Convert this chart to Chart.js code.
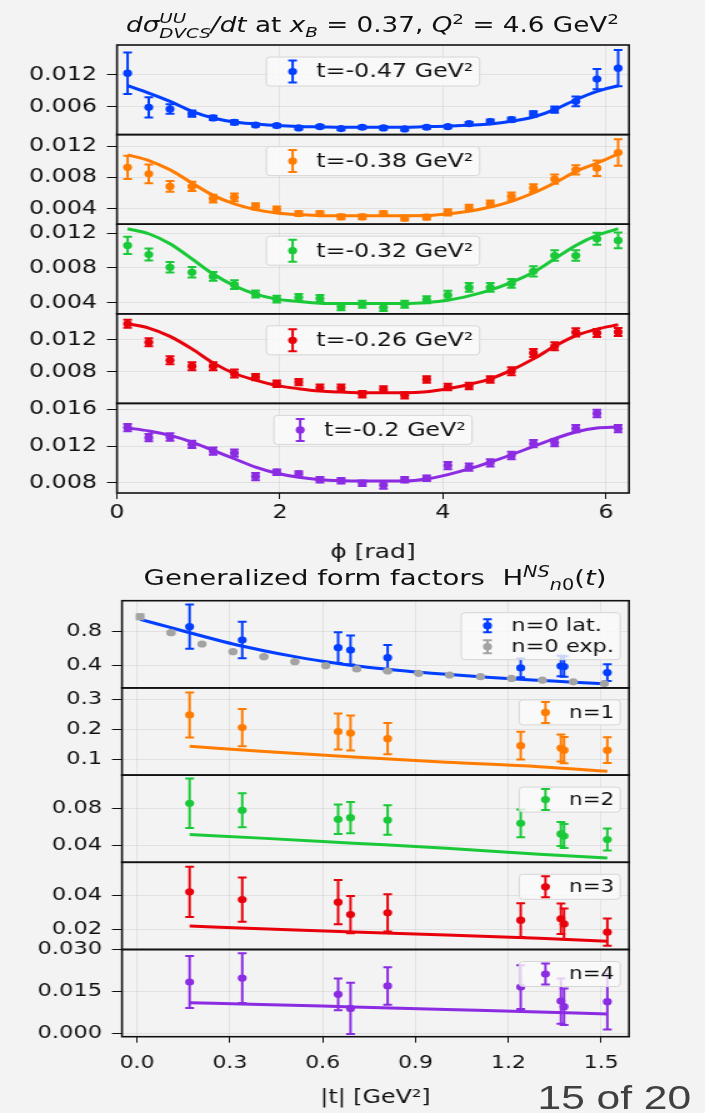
<!DOCTYPE html>
<html>
<head>
<meta charset="utf-8">
<title>DVCS cross sections and generalized form factors</title>
<script src="https://cdn.jsdelivr.net/npm/chart.js@4.4.1/dist/chart.umd.min.js"></script>
<style>
  html, body { margin: 0; padding: 0; background: #f3f3f3; }
  body { width: 705px; height: 1113px; overflow: hidden; position: relative; }
  /* the slide shows the figure stretched sideways: draw at 564px, stretch to 705px */
  #stage { position: absolute; left: 0; top: 0; width: 564px; height: 1113px;
           transform: scaleX(1.25); transform-origin: 0 0; }
  #stage canvas { position: absolute; left: 0; }
  .ttl { position: absolute; width: 500px; text-align: center; line-height: 24px;
         white-space: nowrap; color: #111; font-family: "DejaVu Sans", sans-serif; }
  .ttl sup, .ttl sub { font-size: 70%; line-height: 0; }
  .ss { display: inline-block; font-size: 70%; line-height: 1.05; vertical-align: -0.45em; text-align: left; }
  #page { position: absolute; left: 430px; top: 1078px; line-height: 34px;
          font: 34px "Liberation Sans", sans-serif; color: #404040; white-space: nowrap; }
</style>
</head>
<body>
<div id="stage">
  <div class="ttl" style="left:48px; top:10px; font-size:21px;"><i>dσ</i><span class="ss"><i>UU</i><br><i>DVCS</i></span><i>/dt</i> at <i>x</i><sub><i>B</i></sub> = 0.37, <i>Q</i><sup>2</sup> = 4.6 GeV<sup>2</sup></div>
  <div class="ttl" style="left:50px; top:566px; font-size:22px;">Generalized form factors&nbsp; H<sup><i>NS</i></sup><sub><i>n</i>0</sub>(<i>t</i>)</div>
  <div id="page">15 of 20</div>
</div>
<script>
// ---------- top figure: dsigma/dt vs phi ----------
const phi = [0.13, 0.39, 0.65, 0.92, 1.18, 1.44, 1.70, 1.96, 2.23, 2.49, 2.75, 3.01,
             3.27, 3.53, 3.80, 4.06, 4.32, 4.58, 4.84, 5.11, 5.37, 5.63, 5.89, 6.15];
const phiTicks = [0, 2, 4, 6];
const tLabels = ['t=-0.47 GeV²', 't=-0.38 GeV²', 't=-0.32 GeV²', 't=-0.26 GeV²', 't=-0.2 GeV²'];

const sig047 = [0.0123, 0.00588, 0.00556, 0.00469, 0.00388, 0.00306, 0.00256, 0.00244, 0.0020, 0.00225, 0.00188, 0.00213,
                0.0020, 0.00181, 0.00213, 0.00225, 0.00281, 0.00319, 0.00356, 0.00463, 0.00544, 0.0070, 0.0112, 0.01325];
const err047 = [0.0039, 0.0019, 0.0009, 0.0006, 0.0004, 0.0004, 0.0003, 0.0003, 0.0003, 0.0003, 0.0003, 0.0003,
                0.0003, 0.0003, 0.0003, 0.0003, 0.0003, 0.0004, 0.0004, 0.0005, 0.0006, 0.0009, 0.0019, 0.0034];
const fit047 = [0.00994, 0.00856, 0.0070, 0.00513, 0.00388, 0.00313, 0.00275, 0.00244, 0.00225, 0.00219, 0.00213, 0.00213,
                0.00213, 0.00213, 0.00225, 0.00231, 0.0025, 0.00275, 0.00325, 0.00406, 0.00544, 0.00731, 0.00888, 0.00994];

const sig038 = [0.0093, 0.00847, 0.00685, 0.00685, 0.00528, 0.00545, 0.0043, 0.00387, 0.00336, 0.00336, 0.00294, 0.00294,
                0.00336, 0.00277, 0.0029, 0.00353, 0.00409, 0.00464, 0.00557, 0.00664, 0.00779, 0.00898, 0.00919, 0.01119];
const err038 = [0.0015, 0.0012, 0.0007, 0.0006, 0.0005, 0.0005, 0.0004, 0.0004, 0.0003, 0.0003, 0.0003, 0.0003,
                0.0003, 0.0003, 0.0003, 0.0004, 0.0004, 0.0004, 0.0005, 0.0005, 0.0006, 0.0006, 0.001, 0.0017];
const fit038 = [0.0109, 0.01017, 0.00898, 0.00728, 0.0057, 0.0046, 0.00387, 0.00345, 0.00323, 0.0031, 0.0031, 0.0031,
                0.0031, 0.0031, 0.00312, 0.00332, 0.00366, 0.00421, 0.00494, 0.006, 0.00728, 0.00877, 0.00983, 0.01102];

const sig032 = [0.0106, 0.00955, 0.00808, 0.0075, 0.00703, 0.00607, 0.00499, 0.00441, 0.0046, 0.00448, 0.00352, 0.00383,
                0.00344, 0.00383, 0.00433, 0.00487, 0.00576, 0.00576, 0.00622, 0.00761, 0.00943, 0.00943, 0.01136, 0.01117];
const err032 = [0.001, 0.0007, 0.0006, 0.0006, 0.0005, 0.0005, 0.0004, 0.0004, 0.0004, 0.0004, 0.0004, 0.0004,
                0.0004, 0.0004, 0.0004, 0.0005, 0.0005, 0.0005, 0.0005, 0.0006, 0.0006, 0.0006, 0.0007, 0.0009];
const fit032 = [0.01252, 0.01194, 0.01078, 0.00904, 0.0073, 0.00595, 0.00499, 0.00441, 0.00414, 0.00394, 0.0039, 0.0039,
                0.0039, 0.0039, 0.00402, 0.00429, 0.00479, 0.00545, 0.00634, 0.0075, 0.00904, 0.01059, 0.01175, 0.01252];

const sig026 = [0.01398, 0.01167, 0.00944, 0.0087, 0.0087, 0.00779, 0.00734, 0.00652, 0.00672, 0.00602, 0.00602, 0.0052,
                0.00581, 0.00507, 0.00705, 0.0061, 0.00623, 0.00705, 0.00808, 0.01035, 0.01118, 0.01291, 0.01282, 0.01295];
const err026 = [0.0005, 0.0005, 0.0005, 0.0005, 0.0005, 0.0005, 0.0004, 0.0004, 0.0004, 0.0004, 0.0004, 0.0004,
                0.0004, 0.0004, 0.0004, 0.0004, 0.0004, 0.0004, 0.0005, 0.0005, 0.0005, 0.0005, 0.0005, 0.0005];
const fit026 = [0.01398, 0.01344, 0.01241, 0.01085, 0.00911, 0.00779, 0.00697, 0.00631, 0.0059, 0.00561, 0.00548, 0.0054,
                0.0054, 0.0054, 0.00553, 0.0059, 0.00643, 0.00713, 0.00821, 0.00961, 0.01118, 0.0125, 0.01332, 0.01386];

const sig020 = [0.01402, 0.01292, 0.01299, 0.01218, 0.01145, 0.01123, 0.00866, 0.00914, 0.00895, 0.00833, 0.00822, 0.00793,
                0.00774, 0.00833, 0.00848, 0.00987, 0.00969, 0.01017, 0.01097, 0.01226, 0.01237, 0.01391, 0.01556, 0.01391];
const err020 = [0.0004, 0.0004, 0.0004, 0.0004, 0.0004, 0.0004, 0.0004, 0.0003, 0.0003, 0.0003, 0.0003, 0.0003,
                0.0004, 0.0003, 0.0003, 0.0004, 0.0004, 0.0004, 0.0004, 0.0004, 0.0004, 0.0004, 0.0004, 0.0004];
const fit020 = [0.01398, 0.01365, 0.01317, 0.01244, 0.01152, 0.01061, 0.00969, 0.00903, 0.00859, 0.00833, 0.00822, 0.00818,
                0.00818, 0.00818, 0.0084, 0.00888, 0.0095, 0.01024, 0.01105, 0.01196, 0.01281, 0.01354, 0.01398, 0.01409];

const sigmaTicks = [[0.006, 0.012], [0.004, 0.008, 0.012], [0.004, 0.008, 0.012], [0.008, 0.012], [0.008, 0.012, 0.016]];

// ---------- bottom figure: generalized form factors vs |t| ----------
const tLat = [0.17, 0.34, 0.65, 0.69, 0.81, 1.24, 1.37, 1.38, 1.52];
const tExp = [0.01, 0.11, 0.21, 0.31, 0.41, 0.51, 0.61, 0.71, 0.81, 0.91, 1.01, 1.11, 1.21, 1.31, 1.41, 1.51];
const tFit = [0.17, 0.4, 0.7, 1.0, 1.3, 1.52];
const tTicks = [0, 0.3, 0.6, 0.9, 1.2, 1.5];
const nLabels = ['n=0 lat.', 'n=0 exp.', 'n=1', 'n=2', 'n=3', 'n=4'];

const h0Lat = [0.859, 0.702, 0.612, 0.584, 0.494, 0.373, 0.396, 0.39, 0.318];
const h0LatErr = [0.26, 0.215, 0.18, 0.17, 0.15, 0.11, 0.12, 0.12, 0.10];
const h0Exp = [0.976, 0.788, 0.655, 0.565, 0.506, 0.447, 0.40, 0.361, 0.337, 0.31, 0.29, 0.27, 0.25, 0.23, 0.21, 0.19];
const h0ExpErr = [0.03, 0.015, 0.012, 0.01, 0.01, 0.008, 0.008, 0.008, 0.008, 0.008, 0.008, 0.008, 0.008, 0.008, 0.008, 0.008];
const h0Fit = [0.945, 0.847, 0.749, 0.655, 0.576, 0.506, 0.447, 0.396, 0.357, 0.322, 0.295, 0.27, 0.245, 0.225, 0.205, 0.188];

const h1 = [0.247, 0.205, 0.192, 0.187, 0.168, 0.145, 0.137, 0.130, 0.130];
const h1Err = [0.075, 0.062, 0.06, 0.058, 0.052, 0.046, 0.045, 0.044, 0.043];
const h1Fit = [0.143, 0.126, 0.107, 0.090, 0.075, 0.060];

const h2 = [0.0858, 0.0782, 0.0684, 0.0702, 0.0676, 0.064, 0.0525, 0.0502, 0.0465];
const h2Err = [0.0267, 0.0185, 0.016, 0.017, 0.016, 0.015, 0.013, 0.013, 0.012];
const h2Fit = [0.052, 0.048, 0.0425, 0.037, 0.0305, 0.0265];

const h3 = [0.0422, 0.0376, 0.0361, 0.0288, 0.0298, 0.0255, 0.0263, 0.0233, 0.0184];
const h3Err = [0.0148, 0.013, 0.013, 0.011, 0.011, 0.01, 0.009, 0.009, 0.008];
const h3Fit = [0.022, 0.0205, 0.0185, 0.0168, 0.0148, 0.0131];

const h4 = [0.0184, 0.0198, 0.0140, 0.009, 0.0170, 0.0166, 0.0116, 0.0096, 0.0114];
const h4Err = [0.0093, 0.0089, 0.0057, 0.0091, 0.0067, 0.0078, 0.0081, 0.0065, 0.0099];
const h4Fit = [0.011, 0.0104, 0.0095, 0.0086, 0.0077, 0.007];

const hTicks = [[0.4, 0.8], [0.1, 0.2, 0.3], [0.04, 0.08], [0.02, 0.04], [0, 0.015, 0.03]];

// ---------- drawing ----------
const BLUE = '#023eff', ORANGE = '#ff7c00', GREEN = '#1ac938', RED = '#e8000b', PURPLE = '#8b2be2', GRAY = '#a3a3a3';
const INK = '#111';
const GRID = 'rgba(0,0,0,0.07)';
const FONT = '"DejaVu Sans", sans-serif';
const W = 564;
const stage = document.getElementById('stage');

// vertical error bars with caps, drawn just before each point set
const errorBars = {
  id: 'errorBars',
  beforeDatasetDraw(chart, args) {
    const ds = chart.data.datasets[args.index];
    if (!ds.yErr) return;
    const {ctx, chartArea: a, scales: {x, y}} = chart;
    ctx.save();
    ctx.beginPath();
    ctx.rect(a.left, a.top, a.right - a.left, a.bottom - a.top);
    ctx.clip();
    ctx.strokeStyle = ds.backgroundColor;
    ctx.lineWidth = 2;
    ds.data.forEach((p, i) => {
      const px = x.getPixelForValue(p.x);
      const lo = y.getPixelForValue(p.y - ds.yErr[i]);
      const hi = y.getPixelForValue(p.y + ds.yErr[i]);
      ctx.beginPath();
      ctx.moveTo(px, lo); ctx.lineTo(px, hi);
      ctx.moveTo(px - 3.5, lo); ctx.lineTo(px + 3.5, lo);
      ctx.moveTo(px - 3.5, hi); ctx.lineTo(px + 3.5, hi);
      ctx.stroke();
    });
    ctx.restore();
  }
};

// full box round each panel
const frame = {
  id: 'frame',
  afterDatasetsDraw(chart) {
    const {ctx, chartArea: a} = chart;
    ctx.save();
    ctx.strokeStyle = INK;
    ctx.lineWidth = 1.6;
    ctx.strokeRect(a.left, a.top, a.right - a.left, a.bottom - a.top);
    ctx.restore();
  }
};

// matplotlib-like legend box inside a panel
const panelLegend = {
  id: 'panelLegend',
  afterDraw(chart, args, o) {
    if (!o.items) return;
    const {ctx, chartArea: a} = chart;
    ctx.save();
    ctx.font = o.size + 'px ' + FONT;
    const textW = Math.max(...o.items.map(it => ctx.measureText(it.text).width));
    const w = 40 + textW + 5;
    const h = o.items.length * o.rowH + 2 * o.pad;
    const left = o.align === 'center' ? (a.left + a.right - w) / 2 : a.right - 7 - w;
    const top = a.top + 12;
    ctx.beginPath();
    ctx.roundRect(left, top, w, h, 3);
    ctx.fillStyle = 'rgba(250,250,250,0.8)';
    ctx.fill();
    ctx.strokeStyle = '#d6d6d6';
    ctx.lineWidth = 1;
    ctx.stroke();
    o.items.forEach((it, i) => {
      const cy = top + o.pad + o.rowH * (i + 0.5);
      const mx = left + 21;
      ctx.strokeStyle = it.color;
      ctx.fillStyle = it.color;
      ctx.lineWidth = 2;
      ctx.beginPath();
      ctx.moveTo(mx, cy - o.barH); ctx.lineTo(mx, cy + o.barH);
      ctx.moveTo(mx - 3.5, cy - o.barH); ctx.lineTo(mx + 3.5, cy - o.barH);
      ctx.moveTo(mx - 3.5, cy + o.barH); ctx.lineTo(mx + 3.5, cy + o.barH);
      ctx.stroke();
      ctx.beginPath();
      ctx.arc(mx, cy, 3.6, 0, Math.PI * 2);
      ctx.fill();
      ctx.fillStyle = INK;
      ctx.textBaseline = 'middle';
      ctx.fillText(it.text, left + 40, cy + 1);
    });
    ctx.restore();
  }
};

function points(xs, ys, errs, color, order) {
  return {data: xs.map((x, i) => ({x, y: ys[i]})), yErr: errs, showLine: false,
          backgroundColor: color, borderColor: color, pointRadius: 3.6, pointBorderWidth: 0,
          pointHoverRadius: 0, order};
}

function curve(xs, ys, color) {
  return {data: xs.map((x, i) => ({x, y: ys[i]})), showLine: true, pointRadius: 0,
          borderColor: color, borderWidth: 3, cubicInterpolationMode: 'monotone', order: 5};
}

function makePanel(p) {
  // generous margin so the y tick labels never push the plot area inwards
  const M = 28;
  const axisH = p.last ? p.axisH : 0;
  const top = Math.floor(p.top) - M;
  const height = Math.ceil(p.bottom + axisH) + M - top;
  const canvas = document.createElement('canvas');
  canvas.width = W;
  canvas.height = height;
  canvas.style.top = top + 'px';
  stage.appendChild(canvas);

  new Chart(canvas, {
    type: 'scatter',
    data: {datasets: p.datasets},
    options: {
      responsive: false,
      animation: false,
      events: [],
      layout: {padding: {left: 0, right: W - p.right, top: p.top - top, bottom: height - (p.bottom - top) - axisH}},
      plugins: {legend: {display: false}, tooltip: {enabled: false}, panelLegend: p.legend},
      scales: {
        x: {
          type: 'linear', min: p.xMin, max: p.xMax,
          afterBuildTicks: s => { s.ticks = p.xTicks.map(v => ({value: v})); },
          afterFit: s => { s.height = axisH; },
          border: {display: false},
          grid: {color: GRID, tickColor: INK, tickLength: 6, drawTicks: p.last},
          ticks: {display: p.last, autoSkip: false, maxRotation: 0, padding: p.xPad, color: INK,
                  font: {family: FONT, size: p.xSize}, callback: v => v.toFixed(p.xDec)},
          title: {display: p.last, text: p.xTitle || '', color: INK,
                  font: {family: FONT, size: p.titleSize}, padding: {top: 4, bottom: 4}}
        },
        y: {
          type: 'linear', min: p.yMin, max: p.yMax,
          afterBuildTicks: s => { s.ticks = p.yTicks.map(v => ({value: v})); },
          afterFit: s => { s.width = p.left; },
          border: {display: false},
          grid: {color: GRID, tickColor: INK, tickLength: 8},
          ticks: {autoSkip: false, padding: 8, color: INK, font: {family: FONT, size: p.ySize},
                  callback: v => v.toFixed(p.yDec)}
        }
      }
    },
    plugins: [errorBars, frame, panelLegend]
  });
}

// top figure panels
const topSeries = [
  [sig047, err047, fit047, BLUE],
  [sig038, err038, fit038, ORANGE],
  [sig032, err032, fit032, GREEN],
  [sig026, err026, fit026, RED],
  [sig020, err020, fit020, PURPLE]
];
const topRanges = [[0.00075, 0.0176], [0.002, 0.0135], [0.00272, 0.01304], [0.00407, 0.01522], [0.00687, 0.01666]];
const topEdges = [45, 134.6, 224.2, 313.8, 403.4, 493];

topSeries.forEach(([ys, errs, fit, color], k) => {
  const last = k === topSeries.length - 1;
  makePanel({
    top: topEdges[k], bottom: topEdges[k + 1], left: 93.6, right: 503.2,
    last, axisH: 76, xPad: 3, xSize: 19, xTitle: 'ϕ [rad]', titleSize: 20,
    xMin: 0, xMax: 6.283, xTicks: phiTicks, xDec: 0,
    yMin: topRanges[k][0], yMax: topRanges[k][1], yTicks: sigmaTicks[k], yDec: 3, ySize: 19,
    legend: {items: [{text: tLabels[k], color}], align: 'center', size: 19, rowH: 23, pad: 3, barH: 11},
    datasets: [curve(phi, fit, color), points(phi, ys, errs, color, 1)]
  });
});

// bottom figure panels
const botEdges = [600.7, 687.9, 775.1, 862.3, 949.5, 1036.7];
const botRanges = [[0.138, 1.165], [0.047, 0.337], [0.0218, 0.1163], [0.0082, 0.0596], [-0.0011, 0.030]];
const botDec = [1, 1, 2, 2, 3];
const botSets = [
  [curve(tExp, h0Fit, BLUE), points(tLat, h0Lat, h0LatErr, BLUE, 2), points(tExp, h0Exp, h0ExpErr, GRAY, 1)],
  [curve(tFit, h1Fit, ORANGE), points(tLat, h1, h1Err, ORANGE, 1)],
  [curve(tFit, h2Fit, GREEN), points(tLat, h2, h2Err, GREEN, 1)],
  [curve(tFit, h3Fit, RED), points(tLat, h3, h3Err, RED, 1)],
  [curve(tFit, h4Fit, PURPLE), points(tLat, h4, h4Err, PURPLE, 1)]
];
const botLegends = [
  {items: [{text: nLabels[0], color: BLUE}, {text: nLabels[1], color: GRAY}], align: 'right', size: 18, rowH: 21, pad: 2.5, barH: 6.5},
  {items: [{text: nLabels[2], color: ORANGE}], align: 'right', size: 17, rowH: 20, pad: 2.5, barH: 10.5},
  {items: [{text: nLabels[3], color: GREEN}], align: 'right', size: 17, rowH: 20, pad: 2.5, barH: 10.5},
  {items: [{text: nLabels[4], color: RED}], align: 'right', size: 17, rowH: 20, pad: 2.5, barH: 10.5},
  {items: [{text: nLabels[5], color: PURPLE}], align: 'right', size: 17, rowH: 20, pad: 2.5, barH: 10.5}
];

botSets.forEach((sets, k) => {
  const last = k === botSets.length - 1;
  makePanel({
    top: botEdges[k], bottom: botEdges[k + 1], left: 97.6, right: 503.2,
    last, axisH: 77, xPad: 10, xSize: 17.5, xTitle: '|t| [GeV²]', titleSize: 19,
    xMin: -0.0485, xMax: 1.59, xTicks: tTicks, xDec: 1,
    yMin: botRanges[k][0], yMax: botRanges[k][1], yTicks: hTicks[k], yDec: botDec[k], ySize: 18,
    legend: botLegends[k],
    datasets: sets
  });
});
</script>
</body>
</html>
